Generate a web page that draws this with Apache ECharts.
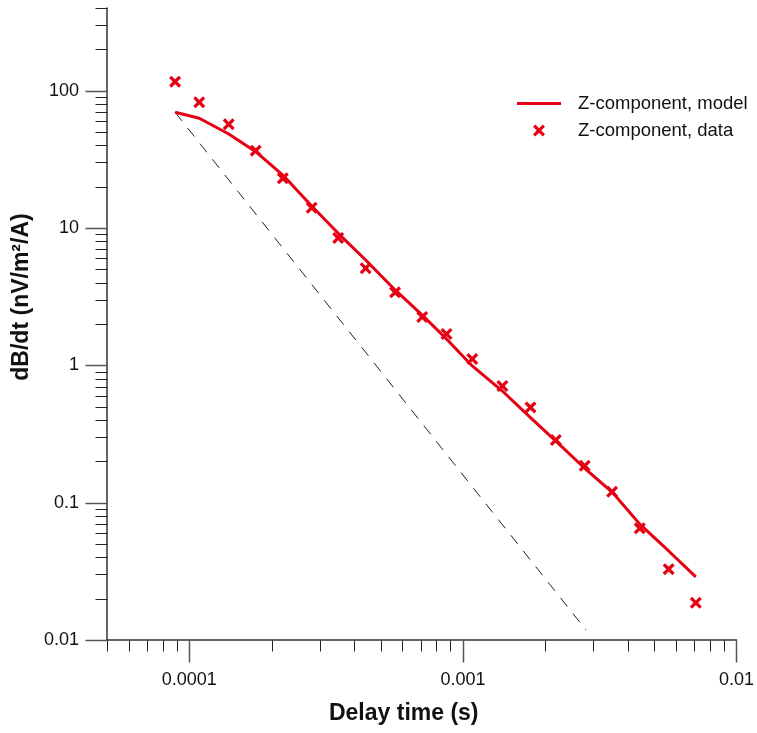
<!DOCTYPE html>
<html>
<head>
<meta charset="utf-8">
<script src="https://cdn.jsdelivr.net/npm/echarts@6/dist/echarts.min.js"></script>
<style>html,body{margin:0;padding:0;background:#fff}#c{width:757px;height:733px}</style>
</head>
<body>
<div id="c"></div>
<script>
// ---- data ----
const times = [8.87e-5, 1.087e-4, 1.393e-4, 1.748e-4, 2.196e-4, 2.80e-4, 3.50e-4, 4.41e-4, 5.65e-4, 7.10e-4,
               8.71e-4, 1.082e-3, 1.394e-3, 1.766e-3, 2.186e-3, 2.787e-3, 3.51e-3, 4.43e-3, 5.65e-3, 7.10e-3];
const dataValues = [116.3, 82.3, 56.9, 36.6, 23.0, 14.06, 8.45, 5.09, 3.40, 2.25,
                    1.69, 1.113, 0.707, 0.494, 0.2857, 0.1858, 0.120, 0.065, 0.0328, 0.01866];
const modelValues = [69.6, 63.0, 48.4, 35.96, 24.3, 14.46, 9.15, 5.85, 3.54, 2.32,
                     1.554, 0.99, 0.65, 0.416, 0.281, 0.178, 0.1194, 0.0698, 0.0445, 0.0288];
const asymTimes = [8.87e-5, 2.82e-3];
const asymValues = [69.6, 0.0118];

const X_MIN = 5e-5, X_MAX = 0.01;
const Y_MIN = 0.01, Y_MAX = 400;
const xMajorTicks = [1e-4, 1e-3, 1e-2];
const xMinorTicks = [5e-5, 6e-5, 7e-5, 8e-5, 9e-5,
                     2e-4, 3e-4, 4e-4, 5e-4, 6e-4, 7e-4, 8e-4, 9e-4,
                     2e-3, 3e-3, 4e-3, 5e-3, 6e-3, 7e-3, 8e-3, 9e-3];
const yMajorTicks = [0.01, 0.1, 1, 10, 100];
const yMinorTicks = [0.02, 0.03, 0.04, 0.05, 0.06, 0.07, 0.08, 0.09,
                     0.2, 0.3, 0.4, 0.5, 0.6, 0.7, 0.8, 0.9,
                     2, 3, 4, 5, 6, 7, 8, 9,
                     20, 30, 40, 50, 60, 70, 80, 90,
                     200, 300, 400];
const seriesNames = ['Z-component, model', 'Z-component, data'];

// ---- chart ----
const RED = '#e60012';
const FONT = "Arial, 'Liberation Sans', sans-serif";
const CROSS = 'path://M0,2.3L2.3,0L6,3.7L9.7,0L12,2.3L8.3,6L12,9.7L9.7,12L6,8.3L2.3,12L0,9.7L3.7,6Z';
const LINE_ICON = 'path://M0,0L44,0L44,3L0,3Z';

function tickSeries(values, dir, len, color, width) {
  return {
    type: 'custom', silent: true, clip: false, z: 5,
    data: values.map(v => dir === 'x' ? [v, Y_MIN] : [X_MIN, v]),
    encode: { x: 0, y: 1 },
    renderItem: function (params, api) {
      const p = api.coord([api.value(0), api.value(1)]);
      const x = Math.round(p[0]) + 0.5, y = Math.round(p[1]) + 0.5;
      const shape = dir === 'x'
        ? { x1: x, y1: y, x2: x, y2: y + len }
        : { x1: x, y1: y, x2: x - len, y2: y };
      return { type: 'line', shape: shape, style: { stroke: color, lineWidth: width } };
    }
  };
}

const chart = echarts.init(document.getElementById('c'), null, { renderer: 'canvas' });
chart.setOption({
  animation: false,
  backgroundColor: '#fff',
  grid: { left: 107, right: 18, top: 8, bottom: 93, containLabel: false },
  legend: {
    orient: 'vertical', left: 517, top: 92, padding: 0,
    itemWidth: 44, itemHeight: 12, itemGap: 4,
    textStyle: { fontFamily: FONT, fontSize: 18.5, color: '#111', lineHeight: 18, padding: [0, 0, 5, 12] },
    data: [
      { name: seriesNames[0], icon: LINE_ICON, itemStyle: { color: RED, borderWidth: 0 } },
      { name: seriesNames[1] }
    ]
  },
  xAxis: {
    type: 'log', logBase: 10, min: X_MIN, max: X_MAX,
    name: 'Delay time (s)', nameLocation: 'middle', nameGap: 62,
    nameTextStyle: { fontFamily: FONT, fontSize: 23, fontWeight: 'bold', color: '#111', padding: [0, 36, 0, 0] },
    axisLine: { show: true, onZero: false, lineStyle: { color: '#333', width: 1.5 } },
    axisTick: { show: false },
    splitLine: { show: false },
    minorTick: { show: false },
    axisLabel: { fontFamily: FONT, fontSize: 18, color: '#111', margin: 31, showMinLabel: false }
  },
  yAxis: {
    type: 'log', logBase: 10, min: Y_MIN, max: Y_MAX,
    name: 'dB/dt (nV/m²/A)', nameLocation: 'middle', nameGap: 73, nameRotate: 90,
    nameTextStyle: { fontFamily: FONT, fontSize: 23, fontWeight: 'bold', color: '#111', padding: [0, 0, 0, 54] },
    axisLine: { show: true, onZero: false, lineStyle: { color: '#333', width: 1.5 } },
    axisTick: { show: false },
    splitLine: { show: false },
    minorTick: { show: false },
    axisLabel: { fontFamily: FONT, fontSize: 18, color: '#111', margin: 28, showMaxLabel: false }
  },
  series: [
    {
      name: 'asymptote', type: 'line', symbol: 'none', silent: true, z: 2,
      data: asymTimes.map((t, i) => [t, asymValues[i]]),
      lineStyle: { color: '#222', width: 1, type: [11, 9] }
    },
    {
      name: seriesNames[0], type: 'line', symbol: 'none', z: 3,
      data: times.map((t, i) => [t, modelValues[i]]),
      lineStyle: { color: RED, width: 3 },
      itemStyle: { color: RED }
    },
    {
      name: seriesNames[1], type: 'scatter', symbol: CROSS, symbolSize: 12, z: 4,
      data: times.map((t, i) => [t, dataValues[i]]),
      itemStyle: { color: RED, opacity: 1 }
    },
    tickSeries(xMajorTicks, 'x', 22, '#555', 1.5),
    tickSeries(xMinorTicks, 'x', 11, '#222', 1),
    tickSeries(yMajorTicks, 'y', 22, '#555', 1.5),
    tickSeries(yMinorTicks, 'y', 12, '#222', 1)
  ]
});
</script>
</body>
</html>
